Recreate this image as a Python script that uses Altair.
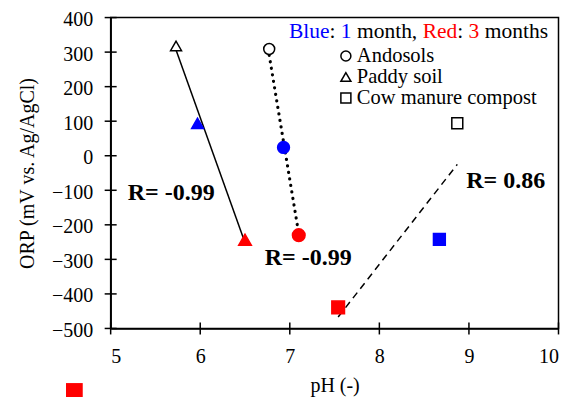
import altair as alt
import pandas as pd

FONT = "Liberation Serif"

# ---- data ----
soil = ["Andosols", "Andosols", "Andosols",
        "Paddy soil", "Paddy soil", "Paddy soil",
        "Cow manure compost", "Cow manure compost", "Cow manure compost"]
month = ["0", "1", "3", "0", "1", "3", "0", "1", "3"]
ph = [6.77, 6.93, 7.10, 5.73, 5.97, 6.50, 8.87, 8.67, 7.54]
orp = [309, 24, -230, 318, 94, -243, 94, -242, -439]

fit_soil = ["Andosols", "Andosols", "Paddy soil", "Paddy soil",
            "Cow manure compost", "Cow manure compost"]
fit_ph = [6.77, 7.10, 5.73, 6.50, 8.87, 7.54]
fit_orp = [291, -226, 306, -252, -25, -467]

r_text = ["R= -0.99", "R= -0.99", "R= 0.86"]
r_ph = [5.19, 6.72, 8.97]
r_orp = [-107, -296, -74]

x_ticks = [5, 6, 7, 8, 9, 10]
y_ticks = [-500, -400, -300, -200, -100, 0, 100, 200, 300, 400]

soil_names = ["Andosols", "Paddy soil", "Cow manure compost"]
soil_shapes = ["circle", "triangle-up", "square"]
month_names = ["0", "1", "3"]
month_fill = ["white", "#0000FF", "#FF0000"]
month_stroke = ["black", "#0000FF", "#FF0000"]

head_parts = ["Blue", ":", "1", "month,", "Red", ":", "3", "months"]
head_colors = ["#0000FF", "black", "#0000FF", "black", "#FF0000", "black", "#FF0000", "black"]
head_em = [0.0, 1.889, 2.417, 3.167, 6.223, 7.834, 8.362, 9.112]

# ---- tables ----
pts = pd.DataFrame({"soil": soil, "month": month, "pH": ph, "ORP": orp})
fits = pd.DataFrame({"soil": fit_soil, "pH": fit_ph, "ORP": fit_orp})
rlab = pd.DataFrame({"text": r_text, "pH": r_ph, "ORP": r_orp})
xt = pd.DataFrame({"pH": x_ticks})
yt = pd.DataFrame({"ORP": y_ticks})

x_scale = alt.Scale(domain=[5, 10], nice=False, zero=False)
y_scale = alt.Scale(domain=[-500, 400], nice=False, zero=False)

x_axis = alt.Axis(values=x_ticks, format="d", title="pH (-)", ticks=False,
                  titleY=63, titleBaseline="alphabetic",
                  labelBaseline="alphabetic", labelPadding=34.5)
y_axis = alt.Axis(values=y_ticks, format="d", title="ORP (mV vs. Ag/AgCl)", ticks=False,
                  titleX=-73, titleY=155.5, labelPadding=18, labelOffset=2)

X = alt.X("pH:Q", scale=x_scale, axis=x_axis)
Y = alt.Y("ORP:Q", scale=y_scale, axis=y_axis)

layers = []

# crossing tick marks
layers.append(
    alt.Chart(xt).mark_tick(color="black", thickness=1.5, size=12, opacity=1)
    .encode(x=X, y=alt.value(311))
)
layers.append(
    alt.Chart(yt).mark_tick(color="black", thickness=1.5, size=12, opacity=1)
    .encode(y=Y, x=alt.value(0))
)

line_styles = {
    "Paddy soil": dict(strokeWidth=1.5),
    "Andosols": dict(strokeWidth=3.2, strokeDash=[0.1, 6.5], strokeCap="round"),
    "Cow manure compost": dict(strokeWidth=1.5, strokeDash=[7, 5]),
}
for s, style in line_styles.items():
    layers.append(
        alt.Chart(fits).transform_filter(alt.datum.soil == s)
        .mark_line(color="black", **style)
        .encode(x=X, y=Y)
    )

layers.append(
    alt.Chart(pts).mark_point(filled=True, opacity=1, strokeWidth=1.5)
    .encode(
        x=X, y=Y,
        shape=alt.Shape("soil:N", scale=alt.Scale(domain=soil_names, range=soil_shapes), legend=None),
        fill=alt.Fill("month:N", scale=alt.Scale(domain=month_names, range=month_fill), legend=None),
        stroke=alt.Stroke("month:N", scale=alt.Scale(domain=month_names, range=month_stroke), legend=None),
        size=alt.Size("month:O", scale=alt.Scale(domain=month_names, range=[120, 160, 160]), legend=None),
    )
)

layers.append(
    alt.Chart(rlab).mark_text(font=FONT, fontSize=24, fontWeight="bold",
                              align="left", baseline="middle", color="black")
    .encode(x=X, y=Y, text="text:N")
)

# ---- hand-made legend ----
dummy = pd.DataFrame({"k": [0]})
HEAD_SIZE = 21.5
for txt, col, em in zip(head_parts, head_colors, head_em):
    layers.append(
        alt.Chart(dummy).mark_text(font=FONT, fontSize=HEAD_SIZE, align="left",
                                   baseline="middle", color=col)
        .encode(x=alt.value(178.3 + em * HEAD_SIZE), y=alt.value(14.5), text=alt.value(txt))
    )

row_y = [38.5, 59.5, 80.5]
for name, shp, yy in zip(soil_names, soil_shapes, row_y):
    layers.append(
        alt.Chart(dummy).mark_point(shape=shp, filled=False, color="black",
                                    strokeWidth=1.5, size=100, opacity=1)
        .encode(x=alt.value(235.3), y=alt.value(yy))
    )
    layers.append(
        alt.Chart(dummy).mark_text(font=FONT, fontSize=20.5, align="left",
                                   baseline="middle", color="black")
        .encode(x=alt.value(246.3), y=alt.value(yy), text=alt.value(name))
    )

# stray red legend marker below the chart
layers.append(
    alt.Chart(dummy).mark_point(shape="square", filled=True, color="#FF0000",
                                size=280, opacity=1)
    .encode(x=alt.value(-36.3), y=alt.value(374))
)

chart = (
    alt.layer(*layers)
    .properties(width=448, height=311,
                autosize=alt.AutoSizeParams(type="none"),
                padding={"left": 102.7, "top": 9.5, "right": 4.5, "bottom": 68.5})
    .configure_view(stroke="black", strokeWidth=1.5)
    .configure_axis(grid=False, labelFont=FONT, labelFontSize=20, labelColor="black",
                    titleFont=FONT, titleFontSize=20, titleFontWeight="normal",
                    titleColor="black", domainColor="black", domainWidth=1.5)
)

chart.save("out.html", embed_options={"renderer": "svg", "actions": False})
